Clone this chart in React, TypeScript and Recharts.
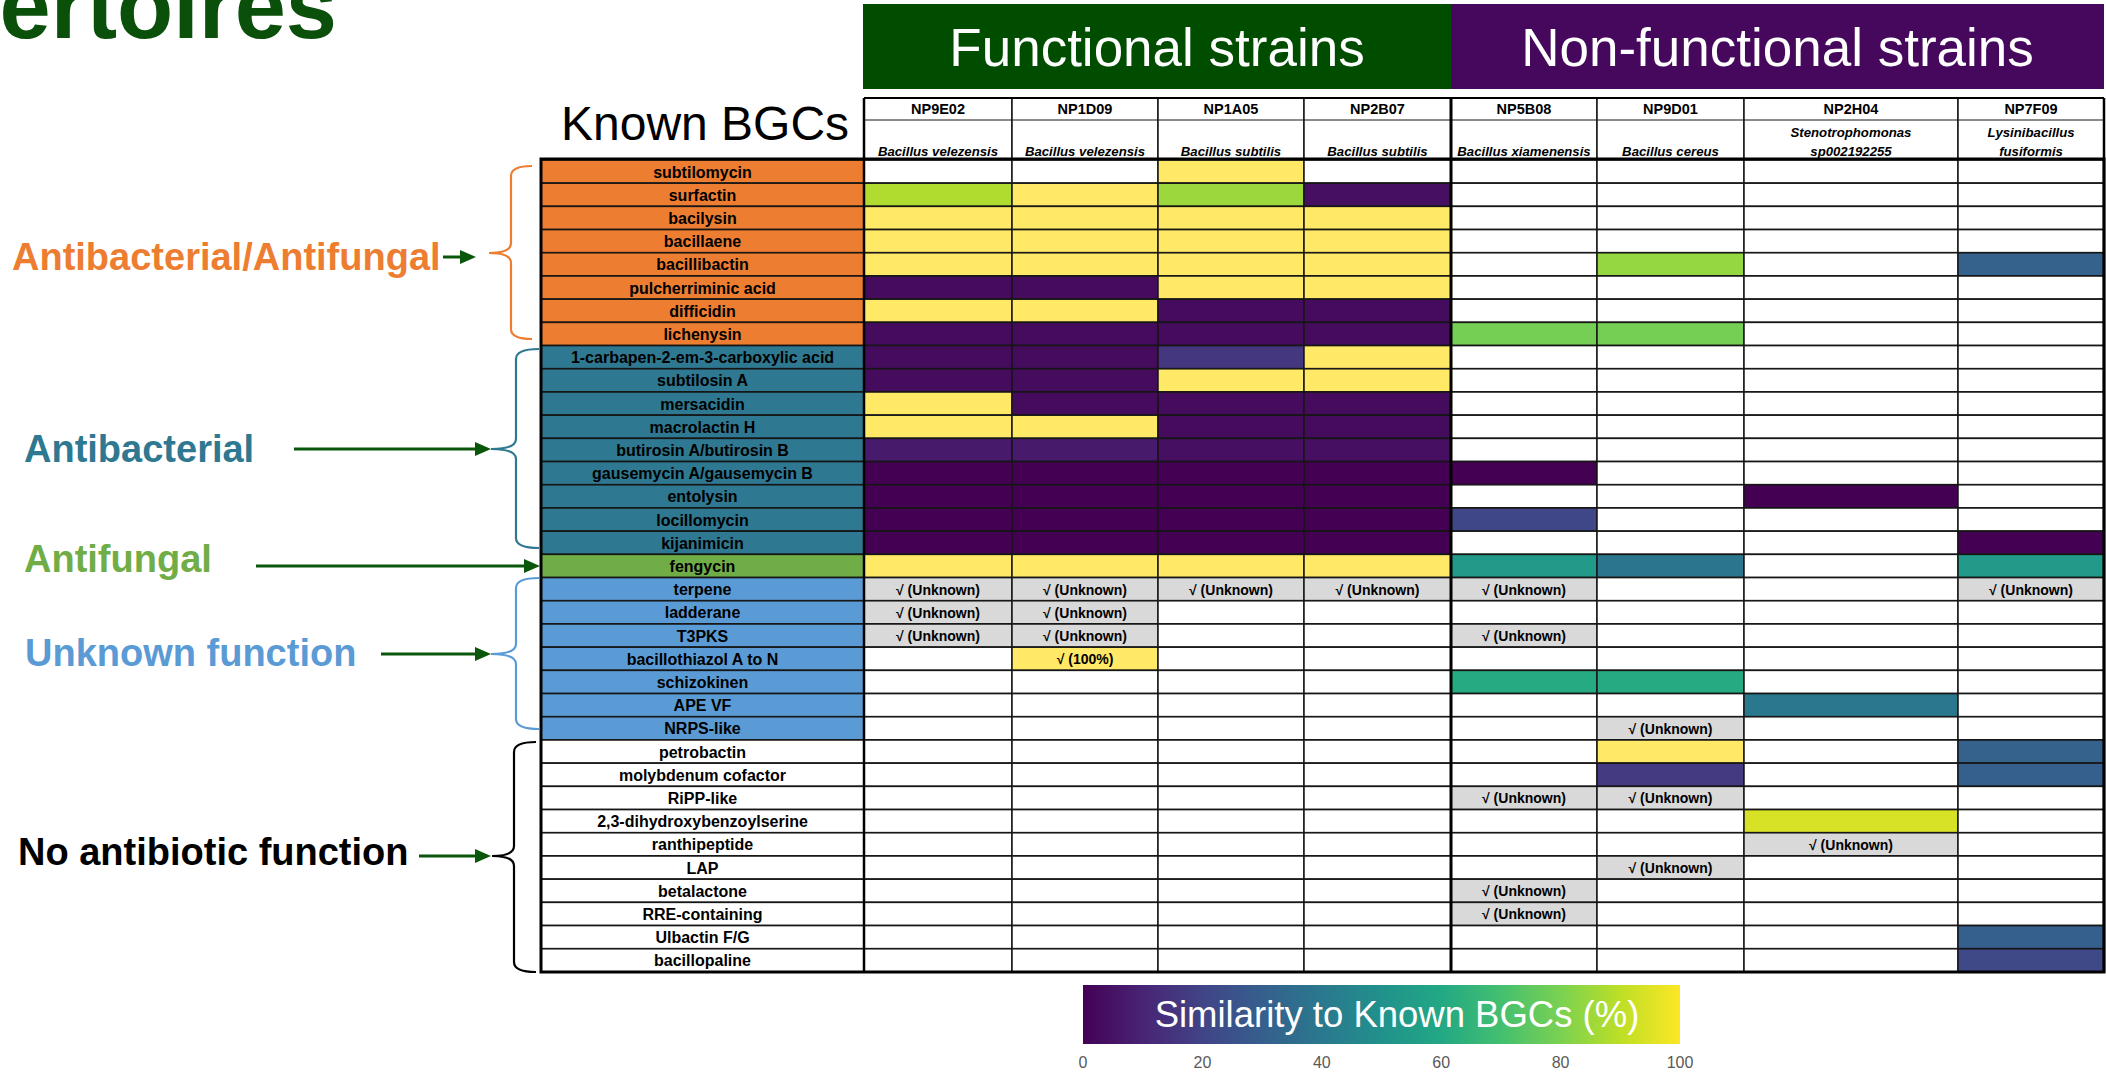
import React from 'react';
import { BarChart, Bar, XAxis, YAxis } from 'recharts';

// ---------------- data ----------------
const U = 'U'; // BGC detected, similarity unknown

const STRAINS = ['NP9E02', 'NP1D09', 'NP1A05', 'NP2B07', 'NP5B08', 'NP9D01', 'NP2H04', 'NP7F09'];
const SPECIES = [
  ['Bacillus velezensis'],
  ['Bacillus velezensis'],
  ['Bacillus subtilis'],
  ['Bacillus subtilis'],
  ['Bacillus xiamenensis'],
  ['Bacillus cereus'],
  ['Stenotrophomonas', 'sp002192255'],
  ['Lysinibacillus', 'fusiformis'],
];
const STRAIN_GROUPS = ['Functional strains', 'Non-functional strains'];
const STRAIN_GROUP_SIZES = [4, 4];

const BGCS = [
  'subtilomycin', 'surfactin', 'bacilysin', 'bacillaene', 'bacillibactin', 'pulcherriminic acid', 'difficidin', 'lichenysin',
  '1-carbapen-2-em-3-carboxylic acid', 'subtilosin A', 'mersacidin', 'macrolactin H', 'butirosin A/butirosin B',
  'gausemycin A/gausemycin B', 'entolysin', 'locillomycin', 'kijanimicin',
  'fengycin',
  'terpene', 'ladderane', 'T3PKS', 'bacillothiazol A to N', 'schizokinen', 'APE VF', 'NRPS-like',
  'petrobactin', 'molybdenum cofactor', 'RiPP-like', '2,3-dihydroxybenzoylserine', 'ranthipeptide', 'LAP',
  'betalactone', 'RRE-containing', 'Ulbactin F/G', 'bacillopaline',
];
const FUNCTIONS = ['Antibacterial/Antifungal', 'Antibacterial', 'Antifungal', 'Unknown function', 'No antibiotic function'];
const FUNCTION_ROW_COUNTS = [8, 9, 1, 7, 10];

const _ = null;
// similarity to known BGCs (%), U = detected with unknown similarity, null = not detected
const NP9E02 = [_, 88, 100, 100, 100, 3, 100, 3, 3, 3, 100, 100, 7, 0, 0, 0, 0, 100, U, U, U, _, _, _, _, _, _, _, _, _, _, _, _, _, _];
const NP1D09 = [_, 100, 100, 100, 100, 3, 100, 3, 3, 3, 3, 100, 7, 0, 0, 0, 0, 100, U, U, U, 100, _, _, _, _, _, _, _, _, _, _, _, _, _];
const NP1A05 = [100, 85, 100, 100, 100, 100, 3, 3, 16, 100, 3, 3, 4, 0, 0, 0, 0, 100, U, _, _, _, _, _, _, _, _, _, _, _, _, _, _, _, _];
const NP2B07 = [_, 4, 100, 100, 100, 100, 3, 3, 100, 100, 3, 3, 4, 0, 0, 0, 0, 100, U, _, _, _, _, _, _, _, _, _, _, _, _, _, _, _, _];
const NP5B08 = [_, _, _, _, _, _, _, 79, _, _, _, _, _, 0, _, 21, _, 54, U, _, U, _, 61, _, _, _, _, U, _, _, _, U, U, _, _];
const NP9D01 = [_, _, _, _, 84, _, _, 79, _, _, _, _, _, _, _, _, _, 39, _, _, _, _, 61, _, U, 100, 17, U, _, _, U, _, _, _, _];
const NP2H04 = [_, _, _, _, _, _, _, _, _, _, _, _, _, _, 0, _, _, _, _, _, _, _, _, 40, _, _, _, _, 94, U, _, _, _, _, _];
const NP7F09 = [_, _, _, _, 31, _, _, _, _, _, _, _, _, _, _, _, 0, 54, U, _, _, _, _, _, _, 31, 30, _, _, _, _, _, _, 30, 22];
const SIMILARITY: Record<string, any[]> = { NP9E02, NP1D09, NP1A05, NP2B07, NP5B08, NP9D01, NP2H04, NP7F09 };

const CELL_NOTES = [{ strain: 'NP1D09', bgc: 'bacillothiazol A to N', text: '√ (100%)' }];
const UNKNOWN_TEXT = '√ (Unknown)';

const COLORBAR_TITLE = 'Similarity to Known BGCs (%)';
const COLORBAR_TICKS = [0, 20, 40, 60, 80, 100];
const TITLE_TEXT = 'Repertoires';
const ROW_HEADER_TITLE = 'Known BGCs';

// ---------------- layout & styles ----------------
const FONT = "'Liberation Sans', Arial, sans-serif";
const TABLE_LEFT = 541;
const HEADER_TOP = 98;
const DATA_TOP = 160;
const DATA_BOTTOM = 972;
const LABEL_SPAN = 323;
const COL_SPANS = [148, 146, 146, 147, 146, 147, 214, 146];
const STRAIN_SPAN = COL_SPANS.reduce((a, b) => a + b, 0);
const TOTAL_SPAN = LABEL_SPAN + STRAIN_SPAN;
const TABLE_RIGHT = TABLE_LEFT + TOTAL_SPAN;
const STRAIN_LEFT = TABLE_LEFT + LABEL_SPAN;

const GROUP_COLORS = ['#004d00', '#46085c'];
const FUNCTION_STYLE: Record<string, { cell: string; text: string; brace: string }> = {
  'Antibacterial/Antifungal': { cell: '#ed7d31', text: '#ed7d31', brace: '#ed7d31' },
  Antibacterial: { cell: '#2e7891', text: '#2e7891', brace: '#2e7891' },
  Antifungal: { cell: '#70ad47', text: '#70ad47', brace: '#70ad47' },
  'Unknown function': { cell: '#5b9bd5', text: '#5b9bd5', brace: '#5b9bd5' },
  'No antibiotic function': { cell: '#ffffff', text: '#000000', brace: '#000000' },
};
const ANNOTATION_LAYOUT: Record<string, any> = {
  'Antibacterial/Antifungal': { textX: 12, baseline: 270, from: 443, to: 476, arrowY: 257, brace: { top: 166, bottom: 339, mid: 253, vx: 511, endX: 532, tipX: 489 } },
  Antibacterial: { textX: 24, baseline: 462, from: 294, to: 491, arrowY: 449, brace: { top: 349, bottom: 548, mid: 449, vx: 516, endX: 539, tipX: 491 } },
  Antifungal: { textX: 24, baseline: 572, from: 256, to: 540, arrowY: 566, brace: null },
  'Unknown function': { textX: 25, baseline: 666, from: 381, to: 491, arrowY: 654, brace: { top: 578, bottom: 729, mid: 654, vx: 516, endX: 539, tipX: 491 } },
  'No antibiotic function': { textX: 18, baseline: 865, from: 419, to: 491, arrowY: 856, brace: { top: 742, bottom: 972, mid: 856, vx: 514, endX: 536, tipX: 492 } },
};
const ARROW_COLOR = '#0a560a';
const UNKNOWN_FILL = '#d9d9d9';
const FULL_MATCH_FILL = '#ffe966';
const GRID = '#161616';

const VIRIDIS = ['#440154', '#482475', '#414487', '#355f8d', '#2a788e', '#21918c', '#22a884', '#44bf70', '#7ad151', '#bddf26', '#fde725'];
const hex = (c: string) => [1, 3, 5].map((k) => parseInt(c.slice(k, k + 2), 16));
const viridis = (v: number) => {
  const t = Math.max(0, Math.min(1, v / 100)) * 10;
  const i = Math.min(9, Math.floor(t));
  const f = t - i;
  const a = hex(VIRIDIS[i]);
  const b = hex(VIRIDIS[i + 1]);
  const m = a.map((x, k) => Math.round(x + (b[k] - x) * f));
  return `rgb(${m[0]},${m[1]},${m[2]})`;
};
const cellFill = (v: any) => {
  if (v === U) return UNKNOWN_FILL;
  if (typeof v === 'number') return v >= 100 ? FULL_MATCH_FILL : viridis(v);
  return '#ffffff';
};

// function of each row (built from the category counts)
const ROW_FUNCTION: string[] = [];
FUNCTIONS.forEach((f, i) => {
  for (let k = 0; k < FUNCTION_ROW_COUNTS[i]; k++) ROW_FUNCTION.push(f);
});

// table for the library
const tableRows = BGCS.map((bgc, i) => {
  const row: any = { bgc, fn: ROW_FUNCTION[i], __label: LABEL_SPAN };
  STRAINS.forEach((s, j) => {
    row[s] = COL_SPANS[j];
    row[s + '_v'] = SIMILARITY[s][i];
  });
  return row;
});
const headerRow: any = { name: 'strains' };
STRAINS.forEach((s, j) => {
  headerRow[s] = COL_SPANS[j];
});

// ---------------- shapes ----------------
const labelShape = (props: any) => {
  const { x, y, width, height, payload } = props;
  const st = FUNCTION_STYLE[payload.fn];
  return (
    <g>
      <rect x={x} y={y} width={width} height={height} fill={st.cell} stroke={GRID} strokeWidth={1.5} />
      <text x={x + width / 2} y={y + height / 2 + 6} textAnchor="middle" fontFamily={FONT} fontWeight="bold" fontSize={16} fill="#000">
        {payload.bgc}
      </text>
    </g>
  );
};

const makeCellShape = (strain: string) => (props: any) => {
  const { x, y, width, height, payload } = props;
  const v = payload[strain + '_v'];
  let text: string | null = v === U ? UNKNOWN_TEXT : null;
  const note = CELL_NOTES.find((n) => n.strain === strain && n.bgc === payload.bgc);
  if (note) text = note.text;
  return (
    <g>
      <rect x={x} y={y} width={width} height={height} fill={cellFill(v)} stroke={GRID} strokeWidth={1.5} />
      {text ? (
        <text x={x + width / 2} y={y + height / 2 + 5.5} textAnchor="middle" fontFamily={FONT} fontWeight="bold" fontSize={14} fill="#000">
          {text}
        </text>
      ) : null}
    </g>
  );
};

const makeHeaderShape = (j: number) => (props: any) => {
  const { x, y, width, height } = props;
  const sp = SPECIES[j];
  const cx = x + width / 2;
  return (
    <g>
      <rect x={x} y={y} width={width} height={height} fill="#ffffff" stroke={GRID} strokeWidth={1.5} />
      <line x1={x} x2={x + width} y1={y + 22} y2={y + 22} stroke={GRID} strokeWidth={1} />
      <text x={cx} y={y + 16} textAnchor="middle" fontFamily={FONT} fontWeight="bold" fontSize={14.5} fill="#000">
        {STRAINS[j]}
      </text>
      {sp.map((line, k) => (
        <text
          key={k}
          x={cx}
          y={y + 57.5 - (sp.length - 1 - k) * 19}
          textAnchor="middle"
          fontFamily={FONT}
          fontWeight="bold"
          fontStyle="italic"
          fontSize={13.2}
          fill="#000"
        >
          {line}
        </text>
      ))}
    </g>
  );
};

const bracePath = (b: any) => {
  const r = 10;
  return `M${b.endX},${b.top} Q${b.vx},${b.top} ${b.vx},${b.top + r} L${b.vx},${b.mid - r} Q${b.vx},${b.mid} ${b.tipX},${b.mid} Q${b.vx},${b.mid} ${b.vx},${b.mid + r} L${b.vx},${b.bottom - r} Q${b.vx},${b.bottom} ${b.endX},${b.bottom}`;
};

// ---------------- component ----------------
export default function App() {
  const divider = STRAIN_LEFT + COL_SPANS.slice(0, STRAIN_GROUP_SIZES[0]).reduce((a, b) => a + b, 0);
  const groupBounds = [
    [STRAIN_LEFT - 1, divider],
    [divider, TABLE_RIGHT],
  ];
  const cbLeft = 1083;
  const cbWidth = 597;
  const cbPad = 30;

  return (
    <div style={{ position: 'absolute', left: 0, top: 0, width: 2106, height: 1074, background: '#ffffff', overflow: 'hidden' }}>
      {/* strain header */}
      <div style={{ position: 'absolute', left: STRAIN_LEFT, top: HEADER_TOP }}>
        <BarChart width={STRAIN_SPAN} height={DATA_TOP - HEADER_TOP - 1} data={[headerRow]} layout="vertical" margin={{ top: 0, right: 0, bottom: 0, left: 0 }} barCategoryGap={0} barGap={0}>
          <XAxis type="number" domain={[0, STRAIN_SPAN]} hide allowDataOverflow scale="linear" />
          <YAxis type="category" dataKey="name" hide />
          {STRAINS.map((s, j) => (
            <Bar key={s} dataKey={s} stackId="h" isAnimationActive={false} shape={makeHeaderShape(j)} />
          ))}
        </BarChart>
      </div>

      {/* heatmap */}
      <div style={{ position: 'absolute', left: TABLE_LEFT, top: DATA_TOP }}>
        <BarChart width={TOTAL_SPAN} height={DATA_BOTTOM - DATA_TOP} data={tableRows} layout="vertical" margin={{ top: 0, right: 0, bottom: 0, left: 0 }} barCategoryGap={0} barGap={0}>
          <XAxis type="number" domain={[0, TOTAL_SPAN]} hide allowDataOverflow scale="linear" />
          <YAxis type="category" dataKey="bgc" hide />
          <Bar dataKey="__label" stackId="t" isAnimationActive={false} shape={labelShape} />
          {STRAINS.map((s) => (
            <Bar key={s} dataKey={s} stackId="t" isAnimationActive={false} shape={makeCellShape(s)} />
          ))}
        </BarChart>
      </div>

      {/* colour bar */}
      <div style={{ position: 'absolute', left: cbLeft - cbPad, top: 985 }}>
        <BarChart width={cbWidth + 2 * cbPad} height={59 + 36} data={[{ name: 'scale', v: 100 }]} layout="vertical" margin={{ top: 0, right: cbPad, bottom: 0, left: cbPad }} barCategoryGap={0}>
          <defs>
            <linearGradient id="viridisGrad" x1="0" y1="0" x2="1" y2="0">
              {VIRIDIS.map((c, i) => (
                <stop key={i} offset={`${i * 10}%`} stopColor={c} />
              ))}
            </linearGradient>
          </defs>
          <XAxis
            type="number"
            domain={[0, 100]}
            ticks={COLORBAR_TICKS}
            interval={0}
            axisLine={false}
            tickLine={false}
            tickMargin={7}
            height={36}
            tick={{ fontSize: 16, fill: '#595959', fontFamily: FONT }}
          />
          <YAxis type="category" dataKey="name" hide />
          <Bar dataKey="v" fill="url(#viridisGrad)" isAnimationActive={false} />
        </BarChart>
      </div>

      {/* annotations */}
      <svg width={2106} height={1074} style={{ position: 'absolute', left: 0, top: 0, pointerEvents: 'none' }}>
        <text x={337} y={38} textAnchor="end" fontFamily={FONT} fontWeight="bold" fontSize={92} fill="#0a4f0a">
          {TITLE_TEXT}
        </text>

        {STRAIN_GROUPS.map((g, i) => (
          <g key={g}>
            <rect x={groupBounds[i][0]} y={4} width={groupBounds[i][1] - groupBounds[i][0]} height={85} fill={GROUP_COLORS[i]} />
            <text x={(groupBounds[i][0] + groupBounds[i][1]) / 2} y={66} textAnchor="middle" fontFamily={FONT} fontSize={53} fill="#ffffff">
              {g}
            </text>
          </g>
        ))}

        <text x={561} y={140} fontFamily={FONT} fontSize={48} fill="#000">
          {ROW_HEADER_TITLE}
        </text>

        {FUNCTIONS.map((f) => {
          const a = ANNOTATION_LAYOUT[f];
          const st = FUNCTION_STYLE[f];
          return (
            <g key={f}>
              <text x={a.textX} y={a.baseline} fontFamily={FONT} fontWeight="bold" fontSize={38} fill={st.text}>
                {f}
              </text>
              <line x1={a.from} x2={a.to - 14} y1={a.arrowY} y2={a.arrowY} stroke={ARROW_COLOR} strokeWidth={3} />
              <polygon points={`${a.to},${a.arrowY} ${a.to - 16},${a.arrowY - 7} ${a.to - 16},${a.arrowY + 7}`} fill={ARROW_COLOR} />
              {a.brace ? <path d={bracePath(a.brace)} fill="none" stroke={st.brace} strokeWidth={2.2} /> : null}
            </g>
          );
        })}

        {/* heavy table rules */}
        <rect x={TABLE_LEFT} y={DATA_TOP - 1} width={TOTAL_SPAN} height={DATA_BOTTOM - DATA_TOP + 1} fill="none" stroke="#000" strokeWidth={3} />
        <line x1={STRAIN_LEFT} x2={TABLE_RIGHT} y1={HEADER_TOP} y2={HEADER_TOP} stroke="#000" strokeWidth={2} />
        <line x1={STRAIN_LEFT} x2={STRAIN_LEFT} y1={HEADER_TOP} y2={DATA_BOTTOM} stroke="#000" strokeWidth={2.5} />
        <line x1={TABLE_RIGHT} x2={TABLE_RIGHT} y1={HEADER_TOP} y2={DATA_BOTTOM} stroke="#000" strokeWidth={2.5} />
        <line x1={divider} x2={divider} y1={HEADER_TOP} y2={DATA_BOTTOM} stroke="#000" strokeWidth={3} />

        <text x={1397} y={1027} textAnchor="middle" fontFamily={FONT} fontSize={36.5} fill="#ffffff">
          {COLORBAR_TITLE}
        </text>
      </svg>
    </div>
  );
}
